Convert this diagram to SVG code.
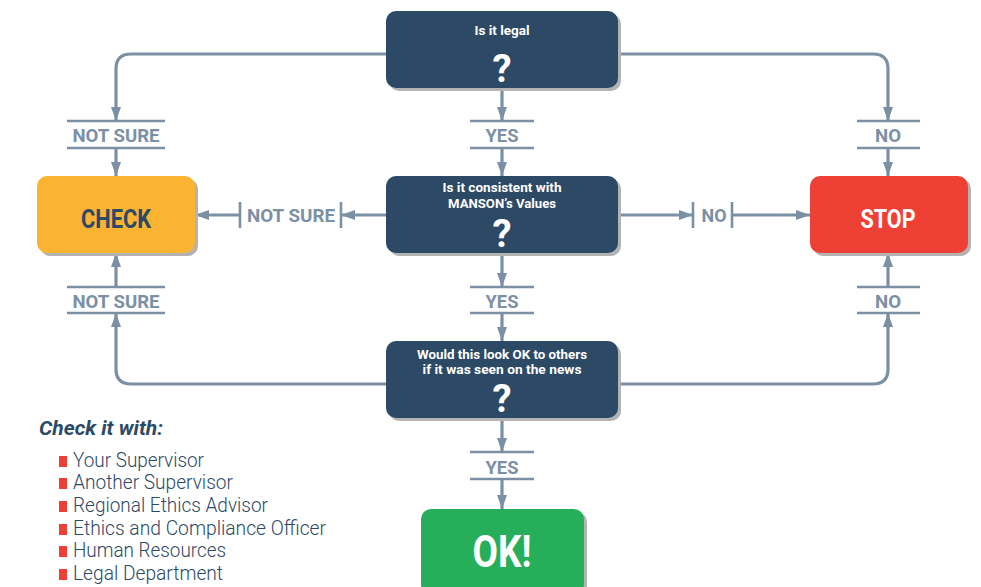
<svg xmlns="http://www.w3.org/2000/svg" width="981" height="587" viewBox="0 0 981 587">
<style>
.box{fill:#2c4966}
.sh{fill:#b3b3b3}
.qt{font-family:Roboto,"Liberation Sans",sans-serif;font-weight:bold;fill:#fff;font-size:13px;text-anchor:middle}
.qm{font-family:Roboto,"Liberation Sans",sans-serif;font-weight:bold;fill:#fff;font-size:39px;text-anchor:middle}
.big{font-family:Roboto,"Liberation Sans",sans-serif;font-weight:bold;font-size:26px;text-anchor:middle}
.lbl{font-family:Roboto,"Liberation Sans",sans-serif;font-weight:bold;fill:#7b90a5;font-size:19px;text-anchor:middle}
.c{fill:none;stroke:#7b90a5;stroke-width:3.2}
.l{fill:none;stroke:#7b90a5;stroke-width:2.6}
.li{font-family:Roboto,"Liberation Sans",sans-serif;font-weight:300;fill:#2c4966;font-size:19.5px}
.bul{fill:#ef4036}
</style>
<defs>
<marker id="arr" viewBox="0 0 14 10" refX="14" refY="5" markerWidth="14" markerHeight="10" markerUnits="userSpaceOnUse" orient="auto">
<path d="M0,0 L14,5 L0,10 z" fill="#7b90a5"/>
</marker>
</defs>

<g id="connectors">
<path class="c" d="M386,54 H131 Q116,54 116,69 V121" marker-end="url(#arr)"/>
<path class="c" d="M116,148 V176" marker-end="url(#arr)"/>
<path class="c" d="M618,54 H873 Q888,54 888,69 V121" marker-end="url(#arr)"/>
<path class="c" d="M888,148 V176" marker-end="url(#arr)"/>
<path class="c" d="M502,88 V121" marker-end="url(#arr)"/>
<path class="c" d="M502,148 V176" marker-end="url(#arr)"/>
<path class="c" d="M386,215 H341" marker-end="url(#arr)"/>
<path class="c" d="M240,215 H195" marker-end="url(#arr)"/>
<path class="c" d="M618,215 H693" marker-end="url(#arr)"/>
<path class="c" d="M732,215 H810" marker-end="url(#arr)"/>
<path class="c" d="M502,253 V287" marker-end="url(#arr)"/>
<path class="c" d="M502,313 V341" marker-end="url(#arr)"/>
<path class="c" d="M386,384 H131 Q116,384 116,369 V313" marker-end="url(#arr)"/>
<path class="c" d="M116,287 V253" marker-end="url(#arr)"/>
<path class="c" d="M618,384 H873 Q888,384 888,369 V313" marker-end="url(#arr)"/>
<path class="c" d="M888,287 V253" marker-end="url(#arr)"/>
<path class="c" d="M502,418 V452" marker-end="url(#arr)"/>
<path class="c" d="M502,479 V509" marker-end="url(#arr)"/>
<path class="l" d="M67,121 H165 M67,148 H165"/>
<path class="l" d="M857,121 H920 M857,148 H920"/>
<path class="l" d="M470,121 H534 M470,148 H534"/>
<path class="l" d="M240,202 V228 M341,202 V228"/>
<path class="l" d="M693,202 V228 M732,202 V228"/>
<path class="l" d="M470,287 H534 M470,313 H534"/>
<path class="l" d="M67,287 H165 M67,313 H165"/>
<path class="l" d="M857,287 H920 M857,313 H920"/>
<path class="l" d="M470,452 H534 M470,479 H534"/>
<text class="lbl" x="116" y="142" textLength="87" lengthAdjust="spacingAndGlyphs">NOT SURE</text>
<text class="lbl" x="888" y="142" textLength="26" lengthAdjust="spacingAndGlyphs">NO</text>
<text class="lbl" x="502" y="142" textLength="33" lengthAdjust="spacingAndGlyphs">YES</text>
<text class="lbl" x="291" y="222" textLength="88" lengthAdjust="spacingAndGlyphs">NOT SURE</text>
<text class="lbl" x="714" y="222" textLength="25" lengthAdjust="spacingAndGlyphs">NO</text>
<text class="lbl" x="502" y="308" textLength="33" lengthAdjust="spacingAndGlyphs">YES</text>
<text class="lbl" x="116" y="308" textLength="87" lengthAdjust="spacingAndGlyphs">NOT SURE</text>
<text class="lbl" x="888" y="308" textLength="26" lengthAdjust="spacingAndGlyphs">NO</text>
<text class="lbl" x="502" y="474" textLength="33" lengthAdjust="spacingAndGlyphs">YES</text>
</g>

<g id="q1">
<rect class="sh" x="389" y="14" width="232" height="77" rx="10"/>
<rect class="box" x="386" y="11" width="232" height="77" rx="10"/>
<text class="qt" x="502" y="35" textLength="55" lengthAdjust="spacingAndGlyphs">Is it legal</text>
<text class="qm" x="502" y="82" textLength="19" lengthAdjust="spacingAndGlyphs">?</text>
</g>

<g id="q2">
<rect class="sh" x="389" y="179" width="232" height="77" rx="10"/>
<rect class="box" x="386" y="176" width="232" height="77" rx="10"/>
<text class="qt" x="502" y="192" textLength="119" lengthAdjust="spacingAndGlyphs">Is it consistent with</text>
<text class="qt" x="502" y="208" textLength="108" lengthAdjust="spacingAndGlyphs">MANSON’s Values</text>
<text class="qm" x="502" y="247" textLength="19" lengthAdjust="spacingAndGlyphs">?</text>
</g>

<g id="q3">
<rect class="sh" x="389" y="344" width="232" height="77" rx="10"/>
<rect class="box" x="386" y="341" width="232" height="77" rx="10"/>
<text class="qt" x="502" y="359" textLength="170" lengthAdjust="spacingAndGlyphs">Would this look OK to others</text>
<text class="qt" x="502" y="374" textLength="159" lengthAdjust="spacingAndGlyphs">if it was seen on the news</text>
<text class="qm" x="502" y="412" textLength="19" lengthAdjust="spacingAndGlyphs">?</text>
</g>

<g id="check">
<rect class="sh" x="40" y="179" width="158" height="77" rx="10"/>
<rect x="37" y="176" width="158" height="77" rx="10" fill="#fbb432"/>
<text class="big" x="116" y="228" fill="#2c4966" textLength="70" lengthAdjust="spacingAndGlyphs">CHECK</text>
</g>

<g id="stop">
<rect class="sh" x="813" y="179" width="158" height="77" rx="10"/>
<rect x="810" y="176" width="158" height="77" rx="10" fill="#ef4036"/>
<text class="big" x="888" y="228" fill="#fff" textLength="55" lengthAdjust="spacingAndGlyphs">STOP</text>
</g>

<g id="ok">
<rect class="sh" x="424" y="512" width="163" height="85" rx="10"/>
<rect x="421" y="509" width="163" height="85" rx="10" fill="#27ae5a"/>
<text class="big" x="502" y="567" fill="#fff" style="font-size:44px" textLength="59" lengthAdjust="spacingAndGlyphs">OK!</text>
</g>

<g id="checklist">
<text x="39" y="435" font-family="Roboto,'Liberation Sans',sans-serif" font-weight="bold" font-style="italic" font-size="20" fill="#2c4966" textLength="124" lengthAdjust="spacingAndGlyphs">Check it with:</text>
<rect class="bul" x="59" y="456" width="8" height="11"/>
<rect class="bul" x="59" y="478" width="8" height="11"/>
<rect class="bul" x="59" y="501" width="8" height="11"/>
<rect class="bul" x="59" y="524" width="8" height="11"/>
<rect class="bul" x="59" y="546" width="8" height="11"/>
<rect class="bul" x="59" y="569" width="8" height="11"/>
<text class="li" x="73" y="467" textLength="131" lengthAdjust="spacingAndGlyphs">Your Supervisor</text>
<text class="li" x="73" y="489" textLength="160" lengthAdjust="spacingAndGlyphs">Another Supervisor</text>
<text class="li" x="73" y="512" textLength="195" lengthAdjust="spacingAndGlyphs">Regional Ethics Advisor</text>
<text class="li" x="73" y="535" textLength="253" lengthAdjust="spacingAndGlyphs">Ethics and Compliance Officer</text>
<text class="li" x="73" y="557" textLength="153" lengthAdjust="spacingAndGlyphs">Human Resources</text>
<text class="li" x="73" y="580" textLength="150" lengthAdjust="spacingAndGlyphs">Legal Department</text>
</g>
</svg>
